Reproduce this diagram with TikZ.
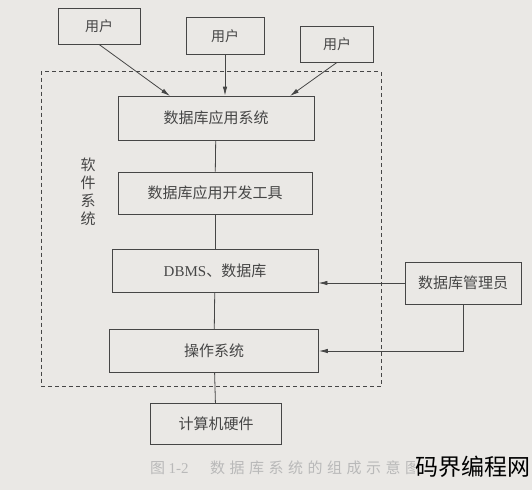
\documentclass[tikz,border=0pt]{standalone}
\usepackage{fontspec}
\setmainfont{Liberation Serif}
\newfontfamily\cjk{Noto Sans CJK SC}
\newfontfamily\cjkwide{Noto Sans CJK SC}[LetterSpace=30]
\usetikzlibrary{arrows.meta}
\definecolor{paper}{RGB}{234,232,229}
\definecolor{ink}{RGB}{70,70,70}
\tikzset{
  box/.style={draw=ink, line width=0.8pt, minimum height=#1, inner sep=0pt, font=\fontsize{15}{15}\selectfont\cjk, text=ink},
  box/.default=43pt,
  conn/.style={draw=ink, line width=0.8pt},
  arr/.style={conn, -{Latex[length=9pt,width=4.5pt]}},
  captext/.style={text=gray!55, anchor=west, inner sep=0pt},
}
\begin{document}
\begin{tikzpicture}[x=1pt,y=-1pt]
\fill[paper] (0,0) rectangle (532,490);
\useasboundingbox (0,0) rectangle (532,490);
% users
\node[box=36pt, minimum width=82pt, font=\fontsize{14}{14}\selectfont\cjk] (u1) at (99,26) {用户};
\node[box=37pt, minimum width=78pt, font=\fontsize{14}{14}\selectfont\cjk] (u2) at (225,36) {用户};
\node[box=36pt, minimum width=73pt, font=\fontsize{14}{14}\selectfont\cjk] (u3) at (337,44) {用户};
% dashed system frame
\node[draw=ink, dash pattern=on 4pt off 3pt, line width=0.7pt, minimum width=340pt, minimum height=315pt, inner sep=0pt] (frame) at (211,229) {};
% central stack
\node[box=44pt, minimum width=196pt] (app) at (216,118) {数据库应用系统};
\node[box=42pt, minimum width=194pt] (tool) at (215,193) {数据库应用开发工具};
\node[box=43pt, minimum width=206pt] (dbms) at (215,271) {\fontsize{15}{15}\selectfont\rmfamily DBMS{\cjk 、数据库}};
\node[box=43pt, minimum width=209pt] (os) at (214,351) {操作系统};
\node[box=41pt, minimum width=131pt] (hw) at (216,424) {计算机硬件};
\node[box=42pt, minimum width=116pt] (dba) at (463,283) {数据库管理员};
% side label
\node[font=\fontsize{15}{18}\selectfont\cjk, text=ink, align=center, inner sep=0pt] (sw) at (88,192) {软\\件\\系\\统};
% connectors
\coordinate (a1) at (170,96);
\coordinate (a3) at (290,96);
\draw[arr] (u1.south) -- (a1);
\draw[arr] (u2.south) -- (u2.south |- app.north);
\draw[arr] (u3.south) -- (a3);
\draw[conn] (app) -- (tool);
\draw[conn] (tool) -- (dbms);
\draw[conn] (dbms) -- (os);
\draw[conn] (os) -- (hw);
\draw[arr] (dba.west) -- (dba.west -| dbms.east);
\coordinate (bend) at (dba.south |- os.east);
\draw[arr] (dba.south) -- (bend) -- (os.east);
% caption
\node[captext, font=\fontsize{15}{15}\selectfont\cjk] (capnum) at (150,468) {图 {\rmfamily 1-2}};
\node[captext, font=\fontsize{15}{15}\selectfont\cjkwide] (cap) at (210,468) {数据库系统的组成示意图};
\node[font=\fontsize{23}{23}\selectfont\cjk, text=black, fill=paper, anchor=east, inner xsep=1pt, inner ysep=2pt] (wm) at (532,467) {码界编程网};
\end{tikzpicture}
\end{document}
